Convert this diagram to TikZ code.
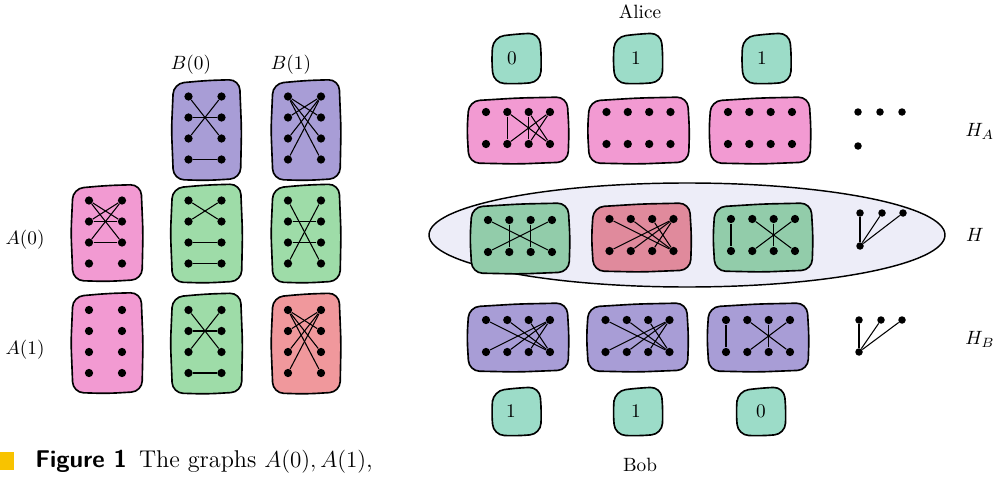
\documentclass[tikz,border=0pt]{standalone}
\definecolor{pinkc}{RGB}{242,154,210}
\definecolor{purplec}{RGB}{168,157,214}
\definecolor{greenL}{RGB}{158,220,168}
\definecolor{redL}{RGB}{240,152,156}
\definecolor{greenH}{RGB}{146,204,170}
\definecolor{redH}{RGB}{224,138,156}
\definecolor{valc}{RGB}{156,220,200}
\definecolor{ellc}{RGB}{237,237,248}
\definecolor{capy}{RGB}{248,195,0}
\newcommand{\blob}[5]{%
  \draw[blobline,fill=#5] ({#1-#3-1},{#2}) -- ({#1-#3+1},{#2-#4+4}) -- ({#1},{#2-#4+1}) -- ({#1+#3-1},{#2-#4}) -- ({#1+#3+1},{#2}) -- ({#1+#3},{#2+#4-1}) -- ({#1},{#2+#4+1}) -- ({#1-#3+1},{#2+#4}) -- cycle;}
\newcommand{\vgraph}[3]{%
  \foreach \i/\dy in {1/-31.5,2/-10.5,3/10.5,4/31.5}{%
    \node[dot] (#1-L\i) at ({#2-16.5},{#3+\dy}) {};
    \node[dot] (#1-R\i) at ({#2+16.5},{#3+\dy}) {};
  }}
\newcommand{\hgraph}[3]{%
  \foreach \i/\dx in {1/-32,2/-10.7,3/10.7,4/32}{%
    \node[dot] (#1-T\i) at ({#2+\dx},{#3-16}) {};
    \node[dot] (#1-B\i) at ({#2+\dx},{#3+16}) {};
  }}
\newcommand{\gedges}[2]{\foreach \a/\b in {#2}{\draw[edge] (#1-\a) -- (#1-\b);}}
\begin{document}
\begin{tikzpicture}[x=0.52pt,y=-0.52pt,
  blobline/.style={draw=black,line width=0.85pt,rounded corners=5.5pt},
  dot/.style={circle,fill=black,inner sep=0pt,minimum size=4.3pt},
  sdot/.style={circle,fill=black,inner sep=0pt,minimum size=3.9pt},
  edge/.style={draw=black,line width=0.55pt},
  lbl/.style={inner sep=1pt}]
\useasboundingbox (0,0) rectangle (998,480);

% ---------- left grid ----------
\node[lbl] (lB0) at (191,65) {$B(0)$};
\node[lbl] (lB1) at (291,65) {$B(1)$};
\node[lbl] (lA0) at (25,240) {$A(0)$};
\node[lbl] (lA1) at (25,350) {$A(1)$};

\blob{206.5}{129.5}{34}{50}{purplec}
\blob{306}{129.5}{34}{50}{purplec}
\blob{107}{232.5}{35}{48}{pinkc}
\blob{206.5}{233}{35}{49}{greenL}
\blob{306}{233}{34}{49}{greenL}
\blob{107}{342.5}{35}{50}{pinkc}
\blob{206.5}{343}{35}{50}{greenL}
\blob{306}{343}{34}{50}{redL}

\vgraph{b0}{205}{128}
\gedges{b0}{L1/R3,R1/L3,L2/R2,L4/R4}
\vgraph{b1}{304.5}{128}
\gedges{b1}{L1/R2,L1/R3,L1/R4,R1/L2,R1/L3,R1/L4}
\vgraph{a0}{105.5}{232}
\gedges{a0}{L1/R2,L1/R3,R1/L2,R1/L3,L2/R2,L3/R3}
\vgraph{a0b0}{205}{232}
\gedges{a0b0}{L1/R2,R1/L2,L3/R3,L4/R4}
\vgraph{a0b1}{304.5}{232}
\gedges{a0b1}{L1/R4,R1/L4,L2/R2,L3/R3}
\vgraph{a1}{105.5}{341.5}
\vgraph{a1b0}{205}{341.5}
\gedges{a1b0}{L1/R3,R1/L3,L2/R2,L4/R4}
\vgraph{a1b1}{304.5}{341.5}
\gedges{a1b1}{L1/R2,L1/R3,L1/R4,R1/L2,R1/L3,R1/L4}

% ---------- right side ----------
\node[lbl] (alice) at (640,12) {Alice};
\node[lbl] (bob) at (640,465) {Bob};
\node[lbl] (lHA) at (980,131) {$H_A$};
\node[lbl] (lH) at (975,235) {$H$};
\node[lbl] (lHB) at (980,339) {$H_B$};

\blob{516.5}{58}{24}{25}{valc}
\blob{638}{58}{24}{25}{valc}
\blob{766.5}{58}{24}{25}{valc}
\node[lbl] (va1) at (512,58) {0};
\node[lbl] (va2) at (636,58) {1};
\node[lbl] (va3) at (762,58) {1};

\blob{516.5}{411}{24}{24}{valc}
\blob{638}{411}{24}{24}{valc}
\blob{761}{411}{24}{24}{valc}
\node[lbl] (vb1) at (511,411) {1};
\node[lbl] (vb2) at (636,411) {1};
\node[lbl] (vb3) at (761,411) {0};

\draw[fill=ellc,draw=black,line width=0.75pt] (687,235) ellipse [x radius=258, y radius=52];

% H_A row
\blob{518}{130}{50}{33}{pinkc}
\blob{638.5}{130}{50}{33}{pinkc}
\blob{760}{130}{50}{33}{pinkc}
\hgraph{ha1}{518}{128}
\gedges{ha1}{T2/B2,T3/B3,T2/B4,T4/B2,T3/B4,T4/B3}
\hgraph{ha2}{638.5}{128}
\hgraph{ha3}{760}{128}
\node[sdot] (hax1) at (858,112) {};
\node[sdot] (hax2) at (880,112) {};
\node[sdot] (hax3) at (902,112) {};
\node[sdot] (hax4) at (858,146) {};

% H row
\blob{520}{238}{49}{35}{greenH}
\blob{641.5}{237}{49}{34}{redH}
\blob{763}{237}{49}{34}{greenH}
\hgraph{h1}{520}{236}
\gedges{h1}{T1/B4,T4/B1,T2/B2,T3/B3}
\hgraph{h2}{641.5}{235}
\gedges{h2}{T1/B4,T2/B4,T3/B4,T4/B1,T4/B2,T4/B3}
\hgraph{h3}{763}{235}
\gedges{h3}{T1/B1,T2/B4,T4/B2,T3/B3}
\node[sdot] (hx1) at (860,213) {};
\node[sdot] (hx2) at (882,213) {};
\node[sdot] (hx3) at (903,213) {};
\node[sdot] (hx4) at (860,246) {};
\draw[edge] (hx4) -- (hx1);
\draw[edge] (hx4) -- (hx2);
\draw[edge] (hx4) -- (hx3);

% H_B row
\blob{518}{337}{50}{34}{purplec}
\blob{637.5}{337}{50}{34}{purplec}
\blob{758}{337}{50}{34}{purplec}
\hgraph{hb1}{518}{336}
\gedges{hb1}{T1/B4,T2/B4,T3/B4,T4/B1,T4/B2,T4/B3}
\hgraph{hb2}{637.5}{336}
\gedges{hb2}{T1/B4,T2/B4,T3/B4,T4/B1,T4/B2,T4/B3}
\hgraph{hb3}{758}{336}
\gedges{hb3}{T1/B1,T2/B4,T4/B2,T3/B3}
\node[sdot] (hbx1) at (859,320) {};
\node[sdot] (hbx2) at (881,320) {};
\node[sdot] (hbx3) at (902,320) {};
\node[sdot] (hbx4) at (859,352) {};
\draw[edge] (hbx4) -- (hbx1);
\draw[edge] (hbx4) -- (hbx2);
\draw[edge] (hbx4) -- (hbx3);

% ---------- caption ----------
\fill[capy] (0,452) rectangle (14,470);
\node[anchor=base west,inner sep=0pt] (cap) at (35,467) {\fontsize{12.6}{14}\selectfont\sffamily\bfseries Figure 1\enspace\rmfamily\mdseries The graphs $A(0), A(1)$,};
\end{tikzpicture}
\end{document}
